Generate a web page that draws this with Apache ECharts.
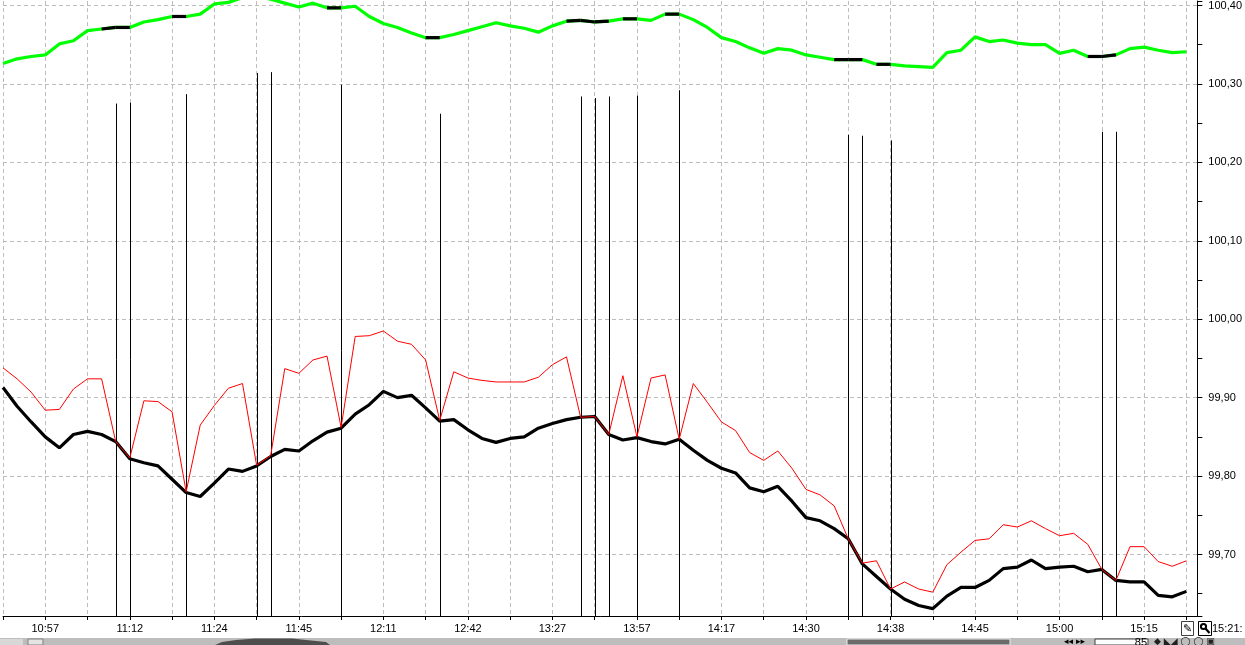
<!DOCTYPE html>
<html>
<head>
	<title>Kurs</title>
	<meta charset="UTF-8">
	<script src="https://cdn.jsdelivr.net/npm/echarts@6/dist/echarts.min.js" type="text/javascript"></script>
	<style>
		html, body { margin: 0; padding: 0; background: #fff; }
		#chart { width: 1245px; height: 645px; }
	</style>
</head>
<body>
<div id="chart"></div>
<script type="text/javascript">
// values per tick (85 points)
var greenLine = [100.326,100.332,100.335,100.337,100.351,100.355,100.368,100.370,100.372,100.372,
	100.379,100.382,100.386,100.386,100.389,100.402,100.404,100.410,100.412,100.408,
	100.403,100.398,100.403,100.397,100.397,100.399,100.386,100.377,100.372,100.365,
	100.359,100.359,100.363,100.368,100.373,100.378,100.374,100.371,100.366,100.374,
	100.380,100.381,100.379,100.380,100.383,100.383,100.381,100.389,100.389,100.382,
	100.372,100.359,100.354,100.346,100.339,100.345,100.343,100.337,100.334,100.331,
	100.331,100.331,100.325,100.325,100.323,100.322,100.321,100.340,100.343,100.360,
	100.354,100.356,100.352,100.350,100.350,100.339,100.343,100.335,100.335,100.337,
	100.345,100.347,100.343,100.340,100.341];

var redLine = [99.938,99.924,99.907,99.884,99.885,99.911,99.924,99.924,99.844,99.823,
	99.896,99.895,99.882,99.780,99.865,99.890,99.912,99.918,99.814,99.826,
	99.937,99.931,99.948,99.953,99.862,99.978,99.979,99.985,99.972,99.968,
	99.948,99.871,99.933,99.925,99.922,99.920,99.920,99.920,99.926,99.942,
	99.952,99.875,99.876,99.853,99.928,99.850,99.925,99.929,99.847,99.918,
	99.894,99.869,99.858,99.830,99.820,99.832,99.810,99.783,99.776,99.762,
	99.720,99.689,99.692,99.656,99.665,99.656,99.652,99.687,99.703,99.718,
	99.720,99.738,99.735,99.743,99.733,99.724,99.727,99.713,99.681,99.667,
	99.710,99.710,99.691,99.685,99.692];

var blackLine = [99.913,99.889,99.869,99.850,99.836,99.853,99.857,99.853,99.844,99.822,
	99.817,99.813,99.796,99.779,99.774,99.791,99.809,99.806,99.813,99.825,
	99.834,99.832,99.845,99.856,99.861,99.879,99.891,99.908,99.900,99.903,
	99.887,99.870,99.872,99.859,99.848,99.843,99.848,99.850,99.861,99.867,
	99.872,99.875,99.876,99.853,99.846,99.849,99.844,99.841,99.847,99.833,
	99.820,99.810,99.804,99.785,99.780,99.787,99.768,99.747,99.743,99.733,
	99.720,99.688,99.672,99.656,99.643,99.635,99.631,99.647,99.658,99.658,
	99.667,99.682,99.684,99.693,99.682,99.684,99.685,99.678,99.681,99.667,
	99.665,99.665,99.648,99.646,99.653];

// vertical markers: tick index and top value
var spikeIdx = [8,9,13,18,19,24,31,41,42,43,45,48,60,61,63,78,79];
var spikeTop = [100.275,100.276,100.287,100.314,100.315,100.299,100.262,100.284,100.282,
	100.284,100.285,100.292,100.235,100.234,100.228,100.239,100.239];

// time labels on the x axis
var labelIdx = [3,9,15,21,27,33,39,45,51,57,63,69,75,81];
var timeLabels = ['10:57','11:12','11:24','11:45','12:11','12:42','13:27','13:57',
	'14:17','14:30','14:38','14:45','15:00','15:15'];
var lastLabel = '15:21:';

// labelled price levels (horizontal grid)
var priceLevels = [99.7, 99.8, 99.9, 100.0, 100.1, 100.2, 100.3, 100.4];

var yMin = 99.6216, yMax = 100.4057;
var xMax = 84.78;

function pairs(arr) {
	return arr.map(function (v, i) { return [i, v]; });
}

var chart = echarts.init(document.getElementById('chart'));

var fontName = '"Liberation Sans", Arial, sans-serif';
var dashed = { color: '#bdbdbd', type: [4, 3], width: 1 };

chart.setOption({
	animation: false,
	backgroundColor: '#fff',
	grid: { left: 0, right: 47, top: 0, bottom: 29, containLabel: false },
	xAxis: {
		type: 'value',
		min: 0,
		max: xMax,
		interval: 3,
		axisLine: { show: true, onZero: false, lineStyle: { color: '#000', width: 1 } },
		axisTick: { show: true, length: 4, lineStyle: { color: '#000' } },
		axisLabel: {
			show: true, margin: 7, color: '#000', fontSize: 11, fontFamily: fontName,
			showMaxLabel: false,
			formatter: function (v) {
				var i = Math.round(v);
				if (Math.abs(v - i) > 1e-6) return '';
				var j = labelIdx.indexOf(i);
				return j < 0 ? '' : timeLabels[j];
			}
		},
		splitLine: { show: true, showMaxLine: false, lineStyle: dashed }
	},
	yAxis: {
		type: 'value',
		position: 'right',
		min: yMin,
		max: yMax,
		splitNumber: 16,
		minInterval: 0.05,
		maxInterval: 0.05,
		axisLine: { show: true, onZero: false, lineStyle: { color: '#000', width: 1 } },
		axisTick: { show: true, inside: false, length: 5, lineStyle: { color: '#000' } },
		axisLabel: {
			show: true, margin: 11, color: '#000', fontSize: 11, fontFamily: fontName,
			formatter: function (v) {
				var r = Math.round(v * 10);
				if (Math.abs(v * 10 - r) > 1e-6) return '';
				return (r / 10).toFixed(2).replace('.', ',');
			}
		},
		splitLine: { show: false }
	},
	series: [{
		name: 'levels',
		type: 'line',
		data: [],
		z: 0,
		markLine: {
			silent: true,
			symbol: 'none',
			z: 1,
			label: { show: false },
			lineStyle: dashed,
			data: priceLevels.map(function (v) { return { yAxis: v }; })
		}
	}, {
		name: 'spikes',
		type: 'custom',
		clip: true,
		data: spikeIdx.map(function (i, k) { return [i, spikeTop[k]]; }),
		renderItem: function (params, api) {
			var top = api.coord([api.value(0), api.value(1)]);
			var bot = api.coord([api.value(0), yMin]);
			var x = Math.round(top[0]) + 0.5;
			return {
				type: 'line',
				shape: { x1: x, y1: top[1], x2: x, y2: bot[1] },
				style: { stroke: '#000', lineWidth: 1 }
			};
		},
		z: 11
	}, {
		name: 'black',
		type: 'line',
		data: pairs(blackLine),
		showSymbol: false,
		lineStyle: { color: '#000', width: 3.2 },
		z: 12
	}, {
		name: 'red',
		type: 'line',
		data: pairs(redLine),
		showSymbol: false,
		lineStyle: { color: '#ff0000', width: 1 },
		z: 13
	}, {
		name: 'green',
		type: 'line',
		data: pairs(greenLine),
		showSymbol: false,
		lineStyle: { color: '#00ff00', width: 3.2 },
		z: 14
	}, {
		// green line is drawn black on the step that ends at a marker
		name: 'greenMarked',
		type: 'custom',
		clip: true,
		data: spikeIdx.map(function (i) { return [i, greenLine[i], greenLine[i - 1]]; }),
		renderItem: function (params, api) {
			var i = api.value(0);
			var p1 = api.coord([i - 1, api.value(2)]);
			var p2 = api.coord([i, api.value(1)]);
			return {
				type: 'line',
				shape: { x1: p1[0], y1: p1[1], x2: p2[0], y2: p2[1] },
				style: { stroke: '#000', lineWidth: 3.2, lineCap: 'butt' }
			};
		},
		z: 15
	}],
	graphic: [
		// scroll strip at the bottom
		{ type: 'rect', shape: { x: 0, y: 638, width: 1245, height: 7 }, style: { fill: '#bdbdbd' }, silent: true },
		{ type: 'rect', shape: { x: 0, y: 639, width: 23, height: 6 }, style: { fill: '#d8d8d8' }, silent: true },
		{ type: 'rect', shape: { x: 28, y: 639, width: 15, height: 6 }, style: { fill: '#e4e4e4', stroke: '#808080', lineWidth: 1 }, silent: true },
		{ type: 'polygon', shape: { points: [[215, 645], [222, 642], [236, 640], [255, 638.5], [292, 638.5], [306, 640], [326, 642], [330, 645]] }, style: { fill: '#4e4e4e' }, silent: true },
		{ type: 'rect', shape: { x: 847, y: 639, width: 163, height: 6 }, style: { fill: '#6b6b6b', stroke: '#f0f0f0', lineWidth: 1 }, silent: true },
		{ type: 'rect', shape: { x: 1095, y: 639, width: 53, height: 6 }, style: { fill: '#fff', stroke: '#404040', lineWidth: 1 }, silent: true },
		{ type: 'text', style: { x: 1147, y: 637, text: '85', fill: '#000', font: '11px "Liberation Sans", Arial, sans-serif', textAlign: 'right', textVerticalAlign: 'top' }, silent: true },
		{ type: 'text', style: { x: 1064, y: 637, text: '◂◂ ▸▸', fill: '#000', font: '9px "DejaVu Sans", sans-serif', textVerticalAlign: 'top' }, silent: true },
		{ type: 'text', style: { x: 1154, y: 637, text: '◆ ◣◢ ◯ ◯ ▣', fill: '#202020', font: '9px "DejaVu Sans", sans-serif', textVerticalAlign: 'top' }, silent: true },
		// tool buttons next to the axis corner
		{ type: 'rect', shape: { x: 1181.5, y: 621.5, width: 12, height: 14 }, style: { fill: '#fff', stroke: '#404040', lineWidth: 1 }, silent: true },
		{ type: 'text', style: { x: 1187.5, y: 629, text: '✎', fill: '#000', font: '11px "DejaVu Sans", sans-serif', textAlign: 'center', textVerticalAlign: 'middle' }, silent: true },
		{ type: 'rect', shape: { x: 1198.5, y: 621.5, width: 13, height: 14 }, style: { fill: '#fff', stroke: '#000', lineWidth: 1 }, silent: true },
		{ type: 'circle', shape: { cx: 1203.5, cy: 626.5, r: 2.6 }, style: { fill: 'none', stroke: '#000', lineWidth: 2 }, silent: true },
		{ type: 'line', shape: { x1: 1205.5, y1: 628.5, x2: 1209.5, y2: 633 }, style: { stroke: '#000', lineWidth: 2.2 }, silent: true },
		{ type: 'text', style: { x: 1212, y: 629, text: lastLabel, fill: '#000', font: '11px "Liberation Sans", Arial, sans-serif', textVerticalAlign: 'middle' }, silent: true }
	]
});
</script>
</body>
</html>
